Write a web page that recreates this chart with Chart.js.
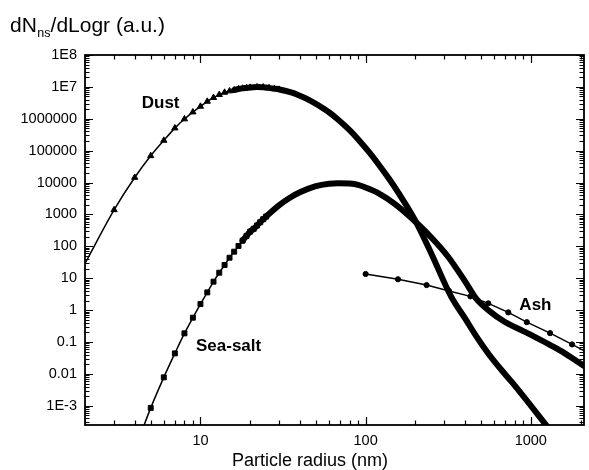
<!DOCTYPE html>
<html>
<head>
<meta charset="utf-8">
<script src="https://cdn.jsdelivr.net/npm/chart.js@4.4.1/dist/chart.umd.min.js"></script>
<style>
  html, body { margin: 0; padding: 0; background: #fff; }
  #wrap { width: 589px; height: 470px; }
</style>
</head>
<body>
<div id="wrap"><canvas id="myChart"></canvas></div>
<script>
// particle radius (nm) and dN/dLogr (a.u.)
var dustR = [2, 3, 4, 5, 6, 7, 8, 9, 10, 11, 12, 13, 14, 15, 16, 17, 18, 19, 20, 22, 24, 26, 28, 30,
             35, 39, 45, 52, 60, 68, 80, 90, 105, 119, 140, 157, 198, 249, 329, 400, 477, 560, 659, 776, 1300];
var dustV = [29, 1390, 14400, 68900, 209000, 510000, 980000, 1.62e6, 2.44e6, 3.5e6, 4.6e6, 5.7e6, 6.7e6, 7.4e6,
             8.0e6, 8.6e6, 9.0e6, 9.3e6, 9.6e6, 9.9e6, 9.8e6, 9.3e6, 8.8e6, 8.3e6,
             6.8e6, 5.6e6, 4.0e6, 2.6e6, 1.6e6, 9.5e5, 4.4e5, 2.3e5, 9.0e4, 3.9e4, 1.22e4, 5000, 700, 62, 2.7,
             0.55, 0.13, 0.04, 0.014, 0.0052, 1.8e-4];

var seaR = [4, 5, 6, 7, 8, 9, 10, 11, 12, 13, 14, 15, 16, 17, 18, 19, 20, 21, 22, 23, 24, 25, 30, 35, 40,
            50, 60, 68, 80, 90, 100, 120, 150, 190, 250, 315, 400, 470, 560, 690, 900, 1100, 1320, 1600, 1900, 2300];
var seaV = [4e-5, 8.6e-4, 0.0078, 0.044, 0.187, 0.58, 1.55, 3.6, 7.8, 14.9, 26, 44, 68, 103, 151, 212, 290,
            355, 450, 570, 710, 860, 1950, 3400, 4950, 7700, 9200, 9600, 9300, 8500, 7000, 4600, 2150, 760, 190,
            48, 8.0, 2.2, 0.95, 0.44, 0.22, 0.13, 0.079, 0.045, 0.025, 0.013];

var ashR = [100, 157, 234, 320, 431, 553, 731, 946, 1309, 1778, 2400];
var ashV = [13.6, 9.3, 6.1, 4.0, 2.7, 1.63, 0.85, 0.42, 0.19, 0.084, 0.037];

var xTickValues = [10, 100, 1000];
var xTickLabels = ['10', '100', '1000'];
var yTickValues = [1e-3, 1e-2, 0.1, 1, 10, 100, 1e3, 1e4, 1e5, 1e6, 1e7, 1e8];
var yTickLabels = ['1E-3', '0.01', '0.1', '1', '10', '100', '1000', '10000', '100000', '1000000', '1E7', '1E8'];

var FONT = '"Liberation Sans", Arial, sans-serif';

function pts(rs, vs) {
    return rs.map(function (r, i) { return { x: r, y: vs[i] }; });
}

// curve labels, placed in data coordinates
var seriesLabels = [
    { text: 'Dust', r: 5.74, v: 3.1e6 },
    { text: 'Sea-salt', r: 14.8, v: 0.071 },
    { text: 'Ash', r: 1067, v: 1.45 }
];

// frame with inward ticks on all four sides
var frameTicks = {
    id: 'frameTicks',
    afterDatasetsDraw: function (chart) {
        var a = chart.chartArea, xs = chart.scales.x, ys = chart.scales.y, c = chart.ctx;
        c.save();
        c.strokeStyle = '#000';
        c.lineWidth = 1.2;
        c.beginPath();
        for (var e = -5; e <= 8; e++) {
            for (var m = 1; m < 10; m++) {
                var v = m * Math.pow(10, e);
                var len = m === 1 ? 8 : 4.5;
                if (v >= xs.min && v <= xs.max) {
                    var px = Math.round(xs.getPixelForValue(v)) + 0.5;
                    c.moveTo(px, a.bottom); c.lineTo(px, a.bottom - len);
                    c.moveTo(px, a.top); c.lineTo(px, a.top + len);
                }
                if (v >= ys.min && v <= ys.max) {
                    var py = Math.round(ys.getPixelForValue(v)) + 0.5;
                    c.moveTo(a.left, py); c.lineTo(a.left + len, py);
                    c.moveTo(a.right, py); c.lineTo(a.right - len, py);
                }
            }
        }
        c.stroke();
        c.lineWidth = 1.8;
        c.strokeRect(a.left, a.top, a.right - a.left, a.bottom - a.top);
        c.restore();
    }
};

var textLayer = {
    id: 'textLayer',
    afterDraw: function (chart) {
        var c = chart.ctx, xs = chart.scales.x, ys = chart.scales.y;
        c.save();
        c.fillStyle = '#000';
        c.textAlign = 'left';
        c.textBaseline = 'alphabetic';
        var x = 10;
        c.font = '21px ' + FONT;
        c.fillText('dN', x, 32);
        x += c.measureText('dN').width + 0.5;
        c.font = '12.5px ' + FONT;
        c.fillText('ns', x, 37);
        x += c.measureText('ns').width;
        c.font = '21px ' + FONT;
        c.fillText('/dLogr (a.u.)', x, 32);

        c.textAlign = 'center';
        c.font = '18px ' + FONT;
        c.fillText('Particle radius (nm)', 310, 466);

        c.font = 'bold 17px ' + FONT;
        c.textBaseline = 'middle';
        seriesLabels.forEach(function (l) {
            c.fillText(l.text, xs.getPixelForValue(l.r), ys.getPixelForValue(l.v));
        });
        c.restore();
    }
};

function markerRadius(lo, hi, size) {
    return function (ctx) {
        var r = ctx.raw && ctx.raw.x;
        return (r >= lo && r <= hi) ? size : 0;
    };
}

function thickFrom(r0) {
    return function (ctx) { return ctx.p0.parsed.x >= r0 ? 6 : 1.5; };
}

var ctx = document.getElementById('myChart').getContext('2d');

var myChart = new Chart(ctx, {
    type: 'line',
    data: {
        datasets: [
            {
                label: 'Dust',
                data: pts(dustR, dustV),
                borderColor: '#000',
                borderWidth: 1.5,
                pointStyle: 'triangle',
                pointRadius: markerRadius(3, 30, 3.6),
                pointBackgroundColor: '#000',
                pointBorderColor: '#000',
                pointBorderWidth: 1,
                segment: { borderWidth: thickFrom(16) },
                cubicInterpolationMode: 'monotone',
                borderCapStyle: 'round',
                borderJoinStyle: 'round',
                clip: 0
            },
            {
                label: 'Sea-salt',
                data: pts(seaR, seaV),
                borderColor: '#000',
                borderWidth: 1.5,
                pointStyle: 'rect',
                pointRadius: markerRadius(5, 25, 3.5),
                pointBackgroundColor: '#000',
                pointBorderColor: '#000',
                pointBorderWidth: 1,
                segment: { borderWidth: thickFrom(18) },
                cubicInterpolationMode: 'monotone',
                borderCapStyle: 'round',
                borderJoinStyle: 'round',
                clip: 0
            },
            {
                label: 'Ash',
                data: pts(ashR, ashV),
                borderColor: '#000',
                borderWidth: 1.5,
                pointStyle: 'circle',
                pointRadius: 2.6,
                pointBackgroundColor: '#000',
                pointBorderColor: '#000',
                pointBorderWidth: 1,
                clip: 0
            }
        ]
    },
    options: {
        responsive: true,
        maintainAspectRatio: false,
        animation: false,
        events: [],
        layout: { padding: { top: 55, right: 2, left: 0, bottom: 0 } },
        plugins: {
            legend: { display: false },
            title: { display: false },
            tooltip: { enabled: false }
        },
        scales: {
            x: {
                type: 'logarithmic',
                min: 2,
                max: 2100,
                grid: { display: false, drawTicks: false },
                border: { display: false },
                afterBuildTicks: function (s) {
                    s.ticks = xTickValues.map(function (v) { return { value: v }; });
                },
                afterFit: function (s) { s.height = 45; },
                ticks: {
                    autoSkip: false,
                    maxRotation: 0,
                    padding: 7,
                    color: '#000',
                    font: { family: FONT, size: 14.5 },
                    callback: function (v, i) { return xTickLabels[i]; }
                }
            },
            y: {
                type: 'logarithmic',
                min: 2.5e-4,
                max: 1e8,
                grid: { display: false, drawTicks: false },
                border: { display: false },
                afterBuildTicks: function (s) {
                    s.ticks = yTickValues.map(function (v) { return { value: v }; });
                },
                afterFit: function (s) { s.width = 85; },
                ticks: {
                    autoSkip: false,
                    padding: 8,
                    color: '#000',
                    font: { family: FONT, size: 14.5 },
                    callback: function (v, i) { return yTickLabels[i]; }
                }
            }
        }
    },
    plugins: [frameTicks, textLayer]
});
</script>
</body>
</html>
